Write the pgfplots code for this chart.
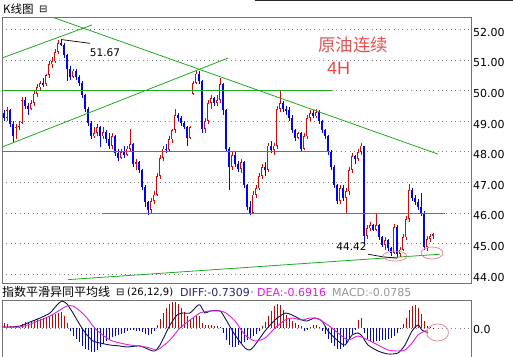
\documentclass[border=0pt]{standalone}
\usepackage{fontspec}
\setmainfont{DejaVu Sans}
\newfontfamily\cjk{Noto Sans CJK SC}
\newfontfamily\lib{Liberation Sans}
\usepackage{pgfplots}
\pgfplotsset{compat=1.18}
\usepackage{pgfplotstable}
\definecolor{upred}{RGB}{230,0,0}
\definecolor{dnblue}{RGB}{0,0,255}
\definecolor{trend}{RGB}{30,170,30}
\definecolor{pinkc}{RGB}{235,140,150}
\definecolor{difc}{RGB}{20,20,80}
\definecolor{deac}{RGB}{225,30,225}
\definecolor{hred}{RGB}{200,0,0}
\definecolor{hblue}{RGB}{0,0,230}
\definecolor{titler}{RGB}{230,80,80}
\definecolor{difft}{RGB}{40,40,110}
\definecolor{macdt}{RGB}{150,150,150}

\pgfplotstableread{
x o h l c
4 49.25 49.35 49.0 49.1
7 49.1 49.45 49.0 49.35
10 49.35 49.4 48.8 48.9
13 48.9 49.0 48.3 48.5
16 48.5 48.9 48.4 48.8
19 48.8 49.0 48.7 48.95
22 48.95 49.8 48.9 49.7
25 49.7 49.8 49.4 49.5
28 49.5 49.6 49.2 49.4
31 49.4 49.7 49.35 49.6
34 49.6 50.0 49.5 49.9
37 49.9 50.2 49.8 50.1
40 50.1 50.3 50.0 50.25
43 50.25 50.4 50.1 50.2
46 50.2 50.55 50.15 50.5
49 50.5 50.95 50.4 50.85
52 50.85 51.1 50.75 50.95
55 50.95 51.35 50.9 51.25
58 51.25 51.65 51.2 51.55
61 51.55 51.67 51.45 51.5
64 51.5 51.55 51.05 51.15
67 51.15 51.2 50.3 50.7
70 50.7 50.8 50.35 50.45
73 50.45 50.7 50.4 50.65
76 50.65 50.7 50.35 50.45
79 50.45 50.5 50.15 50.25
82 50.25 50.3 49.75 49.85
85 49.85 49.9 49.3 49.4
88 49.4 49.45 48.85 48.95
91 48.95 49.0 48.4 48.5
94 48.5 48.8 48.45 48.6
97 48.6 48.9 48.5 48.8
100 48.8 48.85 48.15 48.5
103 48.5 48.8 48.4 48.65
106 48.65 48.7 48.3 48.4
109 48.4 48.6 48.1 48.2
112 48.2 48.6 48.1 48.5
115 48.5 48.55 47.85 47.95
118 47.95 48.1 47.7 47.8
121 47.8 48.1 47.75 48.0
124 48.0 48.2 47.8 47.9
127 47.9 48.2 47.85 48.1
130 48.1 48.75 48.0 48.25
133 48.25 48.3 47.5 47.6
136 47.6 47.75 47.4 47.65
139 47.65 47.7 47.3 47.4
142 47.4 47.45 46.75 46.85
145 46.85 46.9 46.2 46.35
148 46.35 46.4 45.93 46.1
151 46.1 46.5 45.95 46.4
154 46.4 46.7 46.3 46.6
157 46.6 47.3 46.55 47.2
160 47.2 47.9 47.1 47.8
163 47.8 48.2 47.7 48.1
166 48.1 48.25 47.95 48.05
169 48.05 48.5 48.0 48.4
172 48.4 48.75 48.3 48.7
175 48.7 49.4 48.6 49.2
178 49.2 49.25 49.0 49.1
181 49.1 49.15 48.85 48.95
184 48.95 49.0 48.75 48.8
187 48.8 48.85 48.2 48.45
190 48.45 48.85 48.4 48.8
193 49.9 50.3 49.85 50.25
196 50.25 50.65 50.2 50.55
199 50.55 50.65 50.2 50.3
202 50.3 50.35 48.6 48.75
205 48.75 49.1 48.6 49.0
208 49.0 49.7 48.9 49.6
211 49.6 49.85 49.4 49.75
214 49.75 49.8 49.5 49.6
217 49.6 49.85 49.5 49.7
220 49.7 50.4 49.6 50.2
223 50.2 50.25 49.2 49.35
226 49.35 49.4 48.0 48.1
229 48.1 48.15 46.75 47.5
232 47.5 48.0 47.4 47.9
235 47.9 48.0 47.5 47.6
238 47.6 47.7 47.35 47.45
241 47.45 47.75 47.3 47.65
244 47.65 47.7 46.8 46.9
247 46.9 46.95 46.1 46.2
250 46.2 46.4 45.93 46.0
253 46.0 46.7 45.95 46.6
256 46.6 46.9 46.5 46.8
259 46.8 47.3 46.75 47.2
262 47.2 47.6 47.1 47.5
265 47.5 47.65 47.2 47.4
268 47.4 48.3 47.35 48.2
271 48.2 48.35 47.95 48.05
274 48.05 48.3 47.9 48.2
277 48.2 49.5 48.1 49.4
280 49.4 50.0 49.3 49.6
283 49.6 49.65 49.3 49.4
286 49.4 49.5 49.2 49.35
289 49.35 49.45 49.0 49.1
292 49.1 49.2 48.6 48.7
295 48.7 48.75 48.35 48.45
298 48.45 48.65 48.4 48.6
301 48.6 48.65 48.0 48.1
304 48.1 48.6 48.05 48.5
307 48.5 49.2 48.4 49.1
310 49.1 49.35 49.0 49.25
313 49.25 49.35 49.1 49.15
316 49.15 49.4 49.1 49.3
319 49.3 49.35 48.9 49.0
322 49.0 49.05 48.6 48.7
325 48.7 48.75 48.4 48.5
328 48.5 48.55 47.9 48.0
331 48.0 48.05 47.4 47.5
334 47.5 47.55 46.8 46.9
337 46.9 46.95 46.3 46.4
340 46.4 46.9 46.3 46.8
343 46.8 46.9 46.4 46.5
346 46.5 46.8 45.95 46.7
349 46.7 47.5 46.6 47.4
352 47.4 47.95 47.3 47.85
355 47.85 47.9 47.6 47.75
358 47.75 48.1 47.7 48.0
361 48.0 48.3 47.9 48.2
364 48.2 48.2 45.0 45.25
367 45.25 45.6 45.15 45.5
370 45.5 45.7 45.4 45.6
373 45.6 45.65 45.4 45.45
376 45.45 45.95 45.4 45.6
379 45.6 45.65 45.1 45.2
382 45.2 45.25 44.9 44.95
385 44.95 45.2 44.8 45.1
388 45.1 45.15 44.75 44.85
391 44.85 44.9 44.6 44.7
394 44.7 45.65 44.65 45.55
397 45.55 45.6 44.52 44.65
400 44.65 44.9 44.55 44.8
403 44.8 45.3 44.75 45.2
406 45.2 45.9 45.1 45.8
409 45.8 46.95 45.7 46.75
412 46.75 46.8 46.4 46.5
415 46.5 46.6 46.25 46.35
418 46.35 46.45 46.1 46.2
421 46.2 46.65 45.9 46.0
424 46.0 46.05 44.8 44.9
427 44.9 45.25 44.75 45.15
430 45.15 45.3 45.05 45.25
433 45.25 45.35 45.15 45.3
}\candles

\pgfplotstableread{
x m
4 5
7 4
10 2
13 1
16 1
19 1
22 4
25 6
28 6
31 7
34 8
37 9
40 9
43 10
46 11
49 12
52 13
55 14
58 15
61 16
64 12
67 5
70 -3
73 -8
76 -11
79 -14
82 -18
85 -21
88 -22
91 -24
94 -24
97 -22
100 -19
103 -16
106 -13
109 -11
112 -9
115 -8
118 -7
121 -6
124 -5
127 -3
130 -2
133 -2
136 -3
139 -3
142 -4
145 -6
148 -7
151 -6
154 -3
157 3
160 9
163 15
166 20
169 24
172 26
175 26
178 24
181 20
184 16
187 12
190 9
193 10
196 12
199 12
202 5
205 3
208 3
211 3
214 2
217 2
220 1
223 -5
226 -12
229 -17
232 -19
235 -19
238 -17
241 -15
244 -14
247 -12
250 -10
253 -8
256 -6
259 -3
262 2
265 6
268 12
271 17
274 22
277 24
280 23
283 18
286 13
289 9
292 7
295 5
298 3
301 2
304 -3
307 -2
310 1
313 3
316 3
319 1
322 -3
325 -6
328 -11
331 -15
334 -18
337 -21
340 -21
343 -19
346 -16
349 -12
352 -6
355 -2
358 8
361 10
364 -5
367 -11
370 -13
373 -14
376 -13
379 -13
382 -12
385 -12
388 -11
391 -10
394 -8
397 -5
400 -1
403 4
406 10
409 18
412 22
415 23
418 20
421 14
424 7
427 2
430 1
433 -1
}\macd

\pgfplotsset{
  candle/.style={forget plot, draw=none, mark=none,
    error bars/y dir=both, error bars/y explicit, error bars/error mark=none},
}

\begin{document}
\begin{tikzpicture}
\fill[white] (0pt,0pt) rectangle (513pt,356pt);
\path[use as bounding box] (0pt,0pt) rectangle (513pt,356pt);
\draw[black!85, line width=1pt] (255pt,355.5pt) -- (513pt,355.5pt);

% title
\node[anchor=west, inner sep=0pt] at (3pt,347pt) {\cjk\fontsize{11.5}{13}\selectfont K线图};
\node[anchor=west, inner sep=0pt] at (39pt,347pt) {\fontsize{10}{12}\selectfont ⊟};

\begin{axis}[
  at={(2pt,73pt)}, anchor=south west, scale only axis,
  width=469pt, height=266pt,
  xmin=2, xmax=471, ymin=43.71, ymax=52.40,
  axis line style={draw=black!55, line width=0.8pt},
  xtick=\empty,
  ytick={44,45,...,52},
  yticklabel pos=right,
  ymajorgrids,
  major grid style={gray, line width=0.7pt, dash pattern=on 0.8pt off 3.6pt},
  major tick length=0pt,
  yticklabel style={font=\fontsize{11}{13}\selectfont, anchor=west, inner sep=0pt, xshift=2pt, yshift=-3pt},
  /pgf/number format/.cd, fixed, fixed zerofill, precision=2, assume math mode=true,
]
% wicks
\addplot[candle, restrict expr to domain={\thisrow{c}-\thisrow{o}}{0:100},
  error bars/error bar style={draw=upred, line width=0.9pt}]
  table[x=x, y expr={(\thisrow{h}+\thisrow{l})/2}, y error expr={(\thisrow{h}-\thisrow{l})/2}] {\candles};
\addplot[candle, restrict expr to domain={\thisrow{c}-\thisrow{o}}{-100:-0.001},
  error bars/error bar style={draw=dnblue, line width=0.9pt}]
  table[x=x, y expr={(\thisrow{h}+\thisrow{l})/2}, y error expr={(\thisrow{h}-\thisrow{l})/2}] {\candles};
% bodies
\addplot[candle, restrict expr to domain={\thisrow{c}-\thisrow{o}}{0:100},
  error bars/error bar style={draw=upred, line width=2.8pt}]
  table[x=x, y expr={(\thisrow{o}+\thisrow{c})/2}, y error expr={(\thisrow{c}-\thisrow{o})/2}] {\candles};
\addplot[candle, restrict expr to domain={\thisrow{c}-\thisrow{o}}{0:100},
  error bars/error bar style={draw=white, line width=1.0pt}]
  table[x=x, y expr={(\thisrow{o}+\thisrow{c})/2}, y error expr={max((\thisrow{c}-\thisrow{o})/2-0.028,0)}] {\candles};
\addplot[candle, restrict expr to domain={\thisrow{c}-\thisrow{o}}{-100:-0.001},
  error bars/error bar style={draw=dnblue, line width=2.8pt}]
  table[x=x, y expr={(\thisrow{o}+\thisrow{c})/2}, y error expr={(\thisrow{o}-\thisrow{c})/2}] {\candles};

% trend lines
\addplot[trend, line width=0.8pt] coordinates {(2,51.06) (92,52.14)};
\addplot[trend, line width=0.8pt] coordinates {(2,48.15) (228,51.06)};
\addplot[trend, line width=0.8pt] coordinates {(52,52.40) (438,47.92)};
\addplot[trend, line width=0.8pt] coordinates {(2,50.0) (332,50.0)};
\addplot[trend, line width=0.8pt] coordinates {(2,48.0) (330,48.0)};
\addplot[trend, line width=0.8pt] coordinates {(102,46.0) (445,46.0)};
\addplot[trend, line width=0.8pt] coordinates {(68,43.82) (440,44.65)};

% annotations
\draw[black, line width=0.7pt] (62,51.66) -- (90,51.54);
\node[inner sep=0pt, font=\fontsize{10.5}{12}\selectfont] at (105,51.24) {51.67};
\draw[black, line width=0.7pt] (368,44.65) -- (382,44.57) -- (397,44.52);
\node[inner sep=0pt, font=\fontsize{10.5}{12}\selectfont] at (351.5,44.90) {44.42};
\draw[pinkc, line width=0.8pt] (395,44.59) ellipse [x radius=12pt, y radius=5pt];
\draw[pinkc, line width=0.8pt] (432,44.69) ellipse [x radius=11pt, y radius=6pt];
\node[inner sep=0pt, text=titler] at (353,51.49) {\cjk\fontsize{17.5}{19}\selectfont 原油连续};
\node[inner sep=0pt, text=titler!90!red] at (338.5,50.72) {\lib\fontsize{18}{20}\selectfont 4H};
\end{axis}

% MACD title row
\node[anchor=west, inner sep=0pt] at (2pt,64pt) {\cjk\fontsize{12}{14}\selectfont 指数平滑异同平均线};
\node[anchor=west, inner sep=0pt] at (116pt,64pt) {\fontsize{10}{12}\selectfont ⊟};
\node[anchor=west, inner sep=0pt] at (127pt,64pt) {\fontsize{10}{12}\selectfont (26,12,9)};
\node[anchor=west, inner sep=0pt, text=difft] at (180pt,64pt) {\fontsize{11}{13}\selectfont DIFF:-0.7309};
\fill[blue!40] (252pt,64pt) circle (1.2pt);
\node[anchor=west, inner sep=0pt, text=deac] at (257pt,64pt) {\fontsize{11}{13}\selectfont DEA:-0.6916};
\node[anchor=west, inner sep=0pt, text=macdt] at (332pt,64pt) {\fontsize{11}{13}\selectfont MACD:-0.0785};

\begin{axis}[
  at={(2pt,-4pt)}, anchor=south west, scale only axis,
  width=469pt, height=60pt,
  xmin=2, xmax=471, ymin=-32, ymax=28,
  axis line style={draw=black!55, line width=0.8pt},
  xtick=\empty,
  ytick={0},
  yticklabel pos=right,
  ymajorgrids,
  major grid style={gray, line width=0.7pt, dash pattern=on 0.8pt off 3.6pt},
  major tick length=0pt,
  yticklabel style={font=\fontsize{11}{13}\selectfont, anchor=west, inner sep=0pt, xshift=2pt, yshift=-1pt},
  /pgf/number format/.cd, fixed, fixed zerofill, precision=1, assume math mode=true,
]
\addplot[ycomb, hred, line width=0.9pt, restrict y to domain=0:100] table[x=x, y=m] {\macd};
\addplot[ycomb, hblue, line width=0.9pt, restrict y to domain=-100:0] table[x=x, y=m] {\macd};
\addplot[difc, line width=0.9pt, smooth, tension=0.4] coordinates {
(2,1) (10,1) (20,2) (30,6) (40,10) (50,15) (57,23) (62,27) (67,24) (73,15) (80,3) (87,-7) (93,-13) (100,-15) (110,-17) (120,-18) (127,-19) (140,-18) (150,-22) (155,-23) (160,-17) (165,-7) (170,3) (177,13) (183,15) (190,15) (197,22) (200,23) (205,15) (210,17) (220,17) (225,10) (235,-7) (245,-20) (250,-22) (255,-17) (265,-3) (275,8) (285,15) (292,13) (302,8) (307,7) (315,10) (322,7) (328,-3) (338,-13) (345,-17) (352,-7) (358,-5) (362,-8) (368,-17) (378,-23) (388,-26) (398,-25) (405,-17) (412,-3) (418,3) (422,-2) (428,-5)};
\addplot[deac, line width=0.9pt, smooth, tension=0.4] coordinates {
(2,1) (20,1) (33,5) (50,12) (60,18) (67,22) (73,22) (80,17) (87,10) (93,2) (100,-5) (110,-12) (120,-15) (130,-17) (140,-18) (150,-20) (157,-22) (163,-18) (170,-12) (180,0) (190,8) (200,15) (210,17) (220,17) (226,15) (235,7) (245,-7) (255,-13) (265,-10) (275,0) (285,8) (292,10) (302,8) (310,10) (318,9) (328,3) (338,-5) (348,-12) (358,-8) (368,-12) (378,-17) (388,-22) (398,-23) (405,-22) (412,-15) (418,-7) (425,-3) (428,-3)};
\draw[pinkc, line width=0.8pt] (437.5,-4.5) ellipse [x radius=11pt, y radius=8.5pt];
\end{axis}
\end{tikzpicture}
\end{document}
